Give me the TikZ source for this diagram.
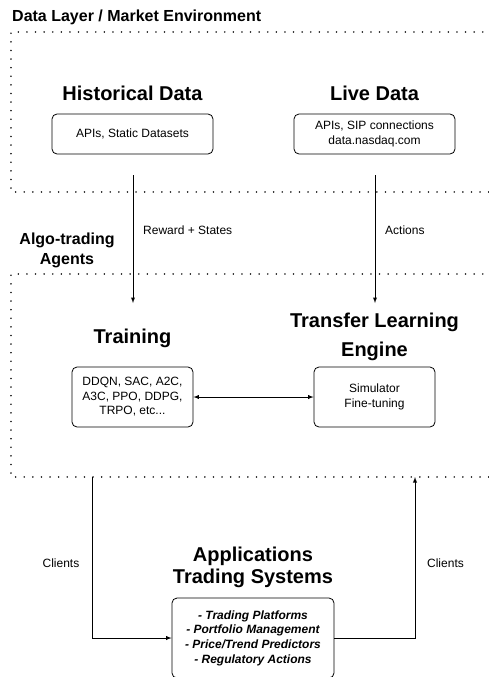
\documentclass[tikz,border=0pt]{standalone}
\usepackage{fontspec}
\setmainfont{Liberation Sans}
\usetikzlibrary{arrows.meta}

\begin{document}
\begin{tikzpicture}[x=1pt,y=-1pt,
  zone/.style={line width=1.6pt, dash pattern=on 0.1pt off 8.5pt, line cap=round, black!85},
  card/.style={draw, rounded corners=5pt, line width=0.8pt, align=center, inner sep=0pt, font=\fontsize{12}{14.5}\selectfont},
  heading/.style={inner sep=0pt, align=center, font=\fontsize{20}{29}\selectfont\bfseries},
  caption/.style={inner sep=0pt, anchor=base, font=\fontsize{12}{14.5}\selectfont},
  link/.style={line width=0.9pt, -latex}]
  \clip (0,0) rectangle (489,677);
  % dotted zones
  \draw[zone] (500,32) -- (11,32) -- (11,192) -- (500,192);
  \draw[zone] (500,274) -- (11,274) -- (11,477) -- (500,477);
  \node[anchor=base west, inner sep=0pt, font=\fontsize{16}{20}\selectfont\bfseries] (layer) at (12,22) {Data Layer / Market Environment};
  \node[inner sep=0pt, align=center, font=\fontsize{16}{19.5}\selectfont\bfseries] (agents) at (67,250.5) {Algo-trading\\Agents};

  % data layer
  \node[heading, anchor=base] (histtitle) at (132.5,100) {Historical Data};
  \node[heading, anchor=base] (livetitle) at (374.5,100) {Live Data};
  \node[card, minimum width=161pt, minimum height=40pt] (hist) at (132.5,134) {APIs, Static Datasets};
  \node[card, minimum width=161pt, minimum height=40pt] (live) at (374.5,134) {APIs, SIP connections\\data.nasdaq.com};

  % agents
  \node[heading, anchor=base] (traintitle) at (132.5,343) {Training};
  \node[heading] (tletitle) at (374.5,337.3) {Transfer Learning\\Engine};
  \node[card, minimum width=121pt, minimum height=60pt] (train) at (132.5,397) {DDQN, SAC, A2C,\\A3C, PPO, DDPG,\\TRPO, etc...};
  \node[card, minimum width=121pt, minimum height=60pt] (tle) at (374.5,397) {Simulator\\Fine-tuning};

  % applications
  \node[heading, font=\fontsize{20}{22}\selectfont\bfseries] (apptitle) at (253,567.8) {Applications\\Trading Systems};
  \node[card, minimum width=162pt, minimum height=80pt, font=\fontsize{12}{14.6}\selectfont\bfseries\itshape] (apps) at (253,638) {- Trading Platforms\\- Portfolio Management\\- Price/Trend Predictors\\- Regulatory Actions};

  % connectors
  \coordinate (histout) at (133,175);
  \coordinate (trainin) at (133,303);
  \coordinate (liveout) at (375,175);
  \coordinate (tlein) at (375,303);
  \coordinate (clientsout) at (92,477);
  \coordinate (clientsin) at (415,477);
  \draw[link] (histout) -- (trainin);
  \draw[link] (liveout) -- (tlein);
  \draw[link, latex-latex] (train.east) -- (tle.west);
  \draw[link] (clientsout) |- (apps.west);
  \draw[link] (apps.east) -| (clientsin);

  \node[caption, anchor=base west] (reward) at (143,234) {Reward + States};
  \node[caption, anchor=base west] (actions) at (385,234) {Actions};
  \node[caption] (clientsl) at (61,567) {Clients};
  \node[caption] (clientsr) at (445.5,567) {Clients};
\end{tikzpicture}
\end{document}
